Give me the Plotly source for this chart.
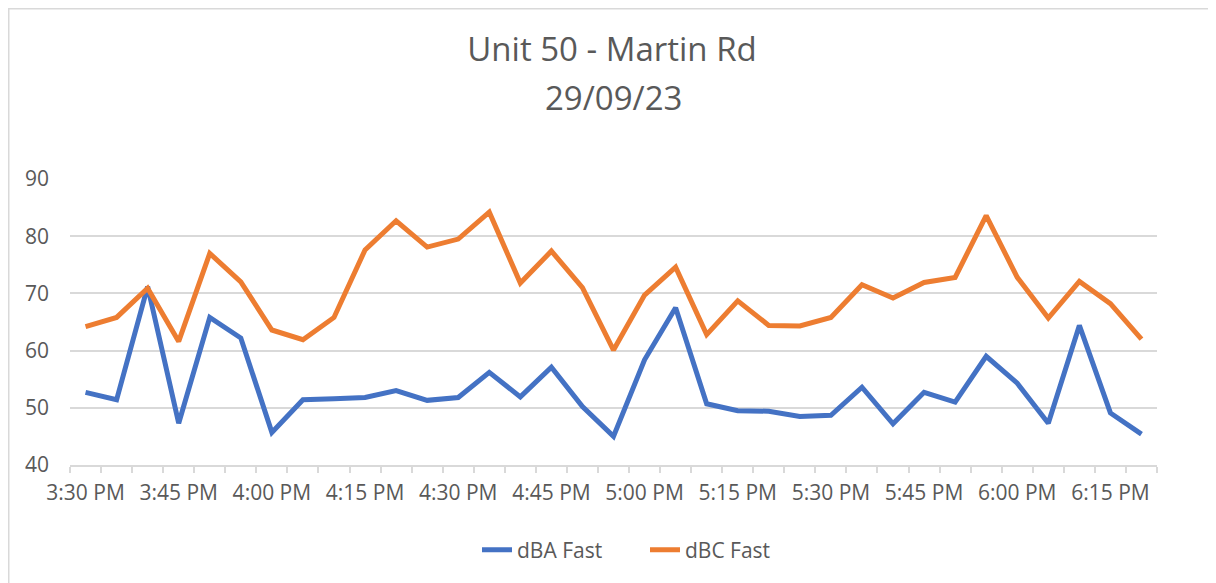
import plotly.graph_objects as go

# sample times, 5 minute steps
times = [
    "2023-09-29 15:30", "2023-09-29 15:35", "2023-09-29 15:40", "2023-09-29 15:45",
    "2023-09-29 15:50", "2023-09-29 15:55", "2023-09-29 16:00", "2023-09-29 16:05",
    "2023-09-29 16:10", "2023-09-29 16:15", "2023-09-29 16:20", "2023-09-29 16:25",
    "2023-09-29 16:30", "2023-09-29 16:35", "2023-09-29 16:40", "2023-09-29 16:45",
    "2023-09-29 16:50", "2023-09-29 16:55", "2023-09-29 17:00", "2023-09-29 17:05",
    "2023-09-29 17:10", "2023-09-29 17:15", "2023-09-29 17:20", "2023-09-29 17:25",
    "2023-09-29 17:30", "2023-09-29 17:35", "2023-09-29 17:40", "2023-09-29 17:45",
    "2023-09-29 17:50", "2023-09-29 17:55", "2023-09-29 18:00", "2023-09-29 18:05",
    "2023-09-29 18:10", "2023-09-29 18:15", "2023-09-29 18:20",
]

dba_fast = [
    52.7, 51.4, 71.2, 47.3, 65.8, 62.2, 45.7, 51.4, 51.6, 51.8,
    53.0, 51.3, 51.8, 56.2, 51.9, 57.1, 50.2, 45.0, 58.4, 67.5,
    50.7, 49.5, 49.4, 48.5, 48.7, 53.6, 47.2, 52.7, 51.0, 59.0,
    54.3, 47.3, 64.4, 49.1, 45.4,
]

dbc_fast = [
    64.2, 65.8, 70.9, 61.6, 77.0, 72.0, 63.6, 61.9, 65.8, 77.6,
    82.7, 78.1, 79.5, 84.2, 71.8, 77.4, 71.0, 60.1, 69.7, 74.6,
    62.8, 68.7, 64.4, 64.3, 65.8, 71.5, 69.2, 71.9, 72.8, 83.6,
    72.8, 65.7, 72.1, 68.2, 62.0,
]

tick_times = [
    "2023-09-29 15:30", "2023-09-29 15:45", "2023-09-29 16:00", "2023-09-29 16:15",
    "2023-09-29 16:30", "2023-09-29 16:45", "2023-09-29 17:00", "2023-09-29 17:15",
    "2023-09-29 17:30", "2023-09-29 17:45", "2023-09-29 18:00", "2023-09-29 18:15",
]

FONT = "Open Sans, Noto Sans, sans-serif"
GREY = "#595959"
GRID = "#d9d9d9"

# the page body adds an 8px margin, so the figure is 8px smaller each way
W, H = 1208, 575
L, R, T, B = 62, 59, 171, 118
PW, PH = W - L - R, H - T - B

fig = go.Figure()
fig.add_trace(go.Scatter(x=times, y=dba_fast, name="dBA Fast", mode="lines",
                         line=dict(color="#4472C4", width=5)))
fig.add_trace(go.Scatter(x=times, y=dbc_fast, name="dBC Fast", mode="lines",
                         line=dict(color="#ED7D31", width=5)))

fig.update_layout(
    width=W, height=H,
    margin=dict(l=L, r=R, t=T, b=B),
    paper_bgcolor="white", plot_bgcolor="white",
    font=dict(family=FONT, color=GREY, size=21),
    title=dict(text="Unit 50 - Martin Rd", x=0.5, xanchor="center",
               y=1 - 41 / H, yanchor="middle", yref="container",
               font=dict(size=33, color=GREY)),
    showlegend=True,
    legend=dict(orientation="h", x=(477 - 8 - L) / PW, xanchor="left",
                y=(H - B - 542) / PH, yanchor="middle",
                font=dict(size=21, color=GREY), entrywidth=123),
    xaxis=dict(
        type="date",
        range=["2023-09-29 15:27:30", "2023-09-29 18:22:30"],
        tickvals=tick_times, tickformat="%-I:%M %p",
        ticks="", showgrid=False,
        showline=True, linecolor=GRID, linewidth=1.5,
        minor=dict(ticks="outside", ticklen=6, tickcolor=GRID, tickwidth=1.5,
                   tick0="2023-09-29 15:27:30", dtick=300000, showgrid=False),
        ticklabelstandoff=8,
        tickfont=dict(size=21, color=GREY),
    ),
    yaxis=dict(
        range=[40, 90], dtick=10, showgrid=True, gridcolor=GRID, gridwidth=1.5,
        zeroline=False, ticks="", ticklabelstandoff=20,
        tickfont=dict(size=21, color=GREY),
    ),
    annotations=[dict(text="29/09/23", x=0.5, xref="paper", xanchor="center",
                      y=(H - B - 89) / PH, yref="paper", yanchor="middle",
                      showarrow=False, font=dict(size=33, color=GREY))],
    shapes=[dict(type="rect", xref="paper", yref="paper",
                 x0=(0.75 - L) / PW, x1=(W - 1 - L) / PW,
                 y0=-0.6, y1=(H - B - 0.75) / PH,
                 line=dict(color=GRID, width=1.5), layer="below")],
)

fig.write_html("out.html")
